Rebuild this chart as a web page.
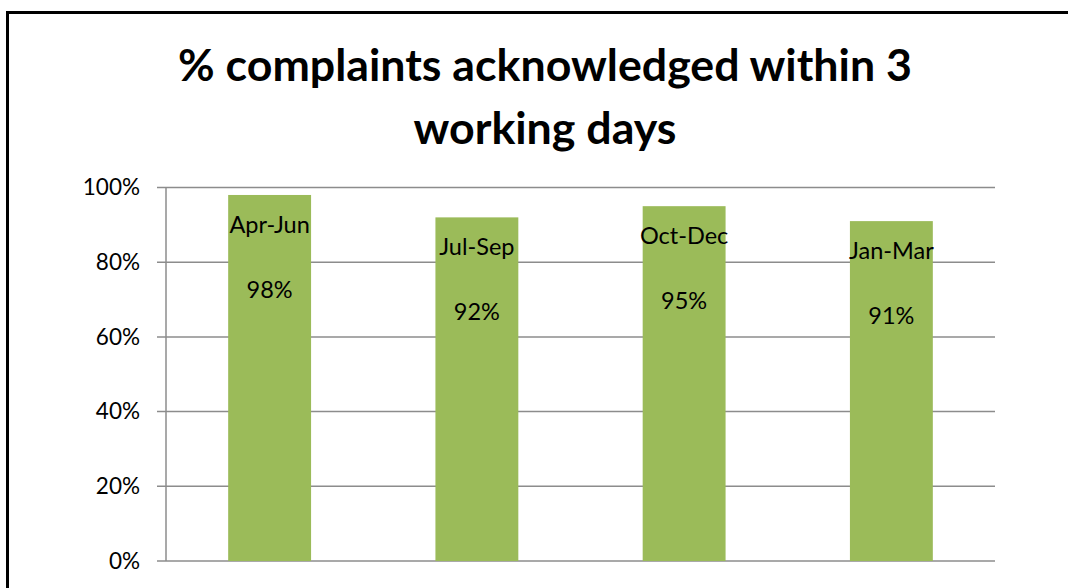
<!DOCTYPE html>
<html>
<head>
<meta charset="utf-8">
<script src="https://cdn.jsdelivr.net/npm/d3@7"></script>
<style>
  html, body { margin: 0; padding: 0; background: #fff; }
  svg { display: block; }
  text { font-family: Lato, 'Open Sans', sans-serif; fill: #000; }
</style>
</head>
<body>
<div id="chart"></div>
<script>
const titleLines = ['% complaints acknowledged within 3', 'working days']
const quarters = ['Apr-Jun', 'Jul-Sep', 'Oct-Dec', 'Jan-Mar']
const values = [0.98, 0.92, 0.95, 0.91]
const yTicks = [0, 0.2, 0.4, 0.6, 0.8, 1]

const fullWidth = 1068
const fullHeight = 588

const margin = {
  top: 187.5,
  right: 73,
  bottom: 27,
  left: 166
}

const width = fullWidth - margin.left - margin.right
const height = fullHeight - margin.top - margin.bottom

const root = d3
  .select('#chart')
  .append('svg')
  .attr('width', fullWidth)
  .attr('height', fullHeight)

// chart frame (only top and left edges fall inside the picture)
root
  .append('rect')
  .attr('x', 7.5)
  .attr('y', 12.5)
  .attr('width', 1200)
  .attr('height', 800)
  .attr('fill', 'none')
  .attr('stroke', '#000')
  .attr('stroke-width', 3)

// title, sized to the width of the first line
const title = root
  .append('text')
  .attr('text-anchor', 'middle')
  .attr('font-weight', 'bold')
  .attr('font-size', 40)

title
  .selectAll('tspan')
  .data(titleLines)
  .enter()
  .append('tspan')
  .attr('x', 545)
  .attr('y', (d, i) => 81 + i * 63)
  .text(d => d)

const firstLen = title.select('tspan').node().getComputedTextLength()
title.attr('font-size', 40 * 734 / firstLen)

const svg = root
  .append('g')
  .attr('transform', 'translate(' + margin.left + ',' + margin.top + ')')

const xPositionScale = d3
  .scaleBand()
  .domain(quarters)
  .range([0, width])
  .paddingInner(0.6)
  .paddingOuter(0.3)

const yPositionScale = d3
  .scaleLinear()
  .domain([0, 1])
  .range([height, 0])

// gridlines
svg
  .selectAll('.grid')
  .data(yTicks)
  .enter()
  .append('line')
  .attr('class', 'grid')
  .attr('x1', -9)
  .attr('x2', width)
  .attr('y1', d => yPositionScale(d))
  .attr('y2', d => yPositionScale(d))
  .attr('stroke', '#8c8c8c')
  .attr('stroke-width', 1.5)

const yAxis = d3
  .axisLeft(yPositionScale)
  .tickValues(yTicks)
  .tickFormat(d3.format('.0%'))
  .tickSize(0)
  .tickPadding(26)

svg
  .append('g')
  .attr('class', 'axis y-axis')
  .call(yAxis)
  .call(g => g.select('.domain').remove())
  .selectAll('text')
  .attr('font-family', 'Lato, sans-serif')
  .attr('font-size', 22.5)
  .attr('fill', '#000')

svg
  .append('line')
  .attr('x1', 0)
  .attr('x2', 0)
  .attr('y1', 0)
  .attr('y2', height)
  .attr('stroke', '#8c8c8c')
  .attr('stroke-width', 1.5)

const bars = svg
  .selectAll('.bar')
  .data(quarters.map((q, i) => ({ quarter: q, value: values[i] })))
  .enter()
  .append('g')
  .attr('class', 'bar')

bars
  .append('rect')
  .attr('x', d => xPositionScale(d.quarter))
  .attr('y', d => yPositionScale(d.value))
  .attr('width', xPositionScale.bandwidth())
  .attr('height', d => height - yPositionScale(d.value))
  .attr('fill', '#9bbb59')

bars
  .append('text')
  .attr('x', d => xPositionScale(d.quarter) + xPositionScale.bandwidth() / 2)
  .attr('y', d => yPositionScale(d.value) + 38)
  .attr('text-anchor', 'middle')
  .attr('font-size', 23.5)
  .text(d => d.quarter)

bars
  .append('text')
  .attr('x', d => xPositionScale(d.quarter) + xPositionScale.bandwidth() / 2)
  .attr('y', d => yPositionScale(d.value) + 103)
  .attr('text-anchor', 'middle')
  .attr('font-size', 23.5)
  .text(d => d3.format('.0%')(d.value))
</script>
</body>
</html>
